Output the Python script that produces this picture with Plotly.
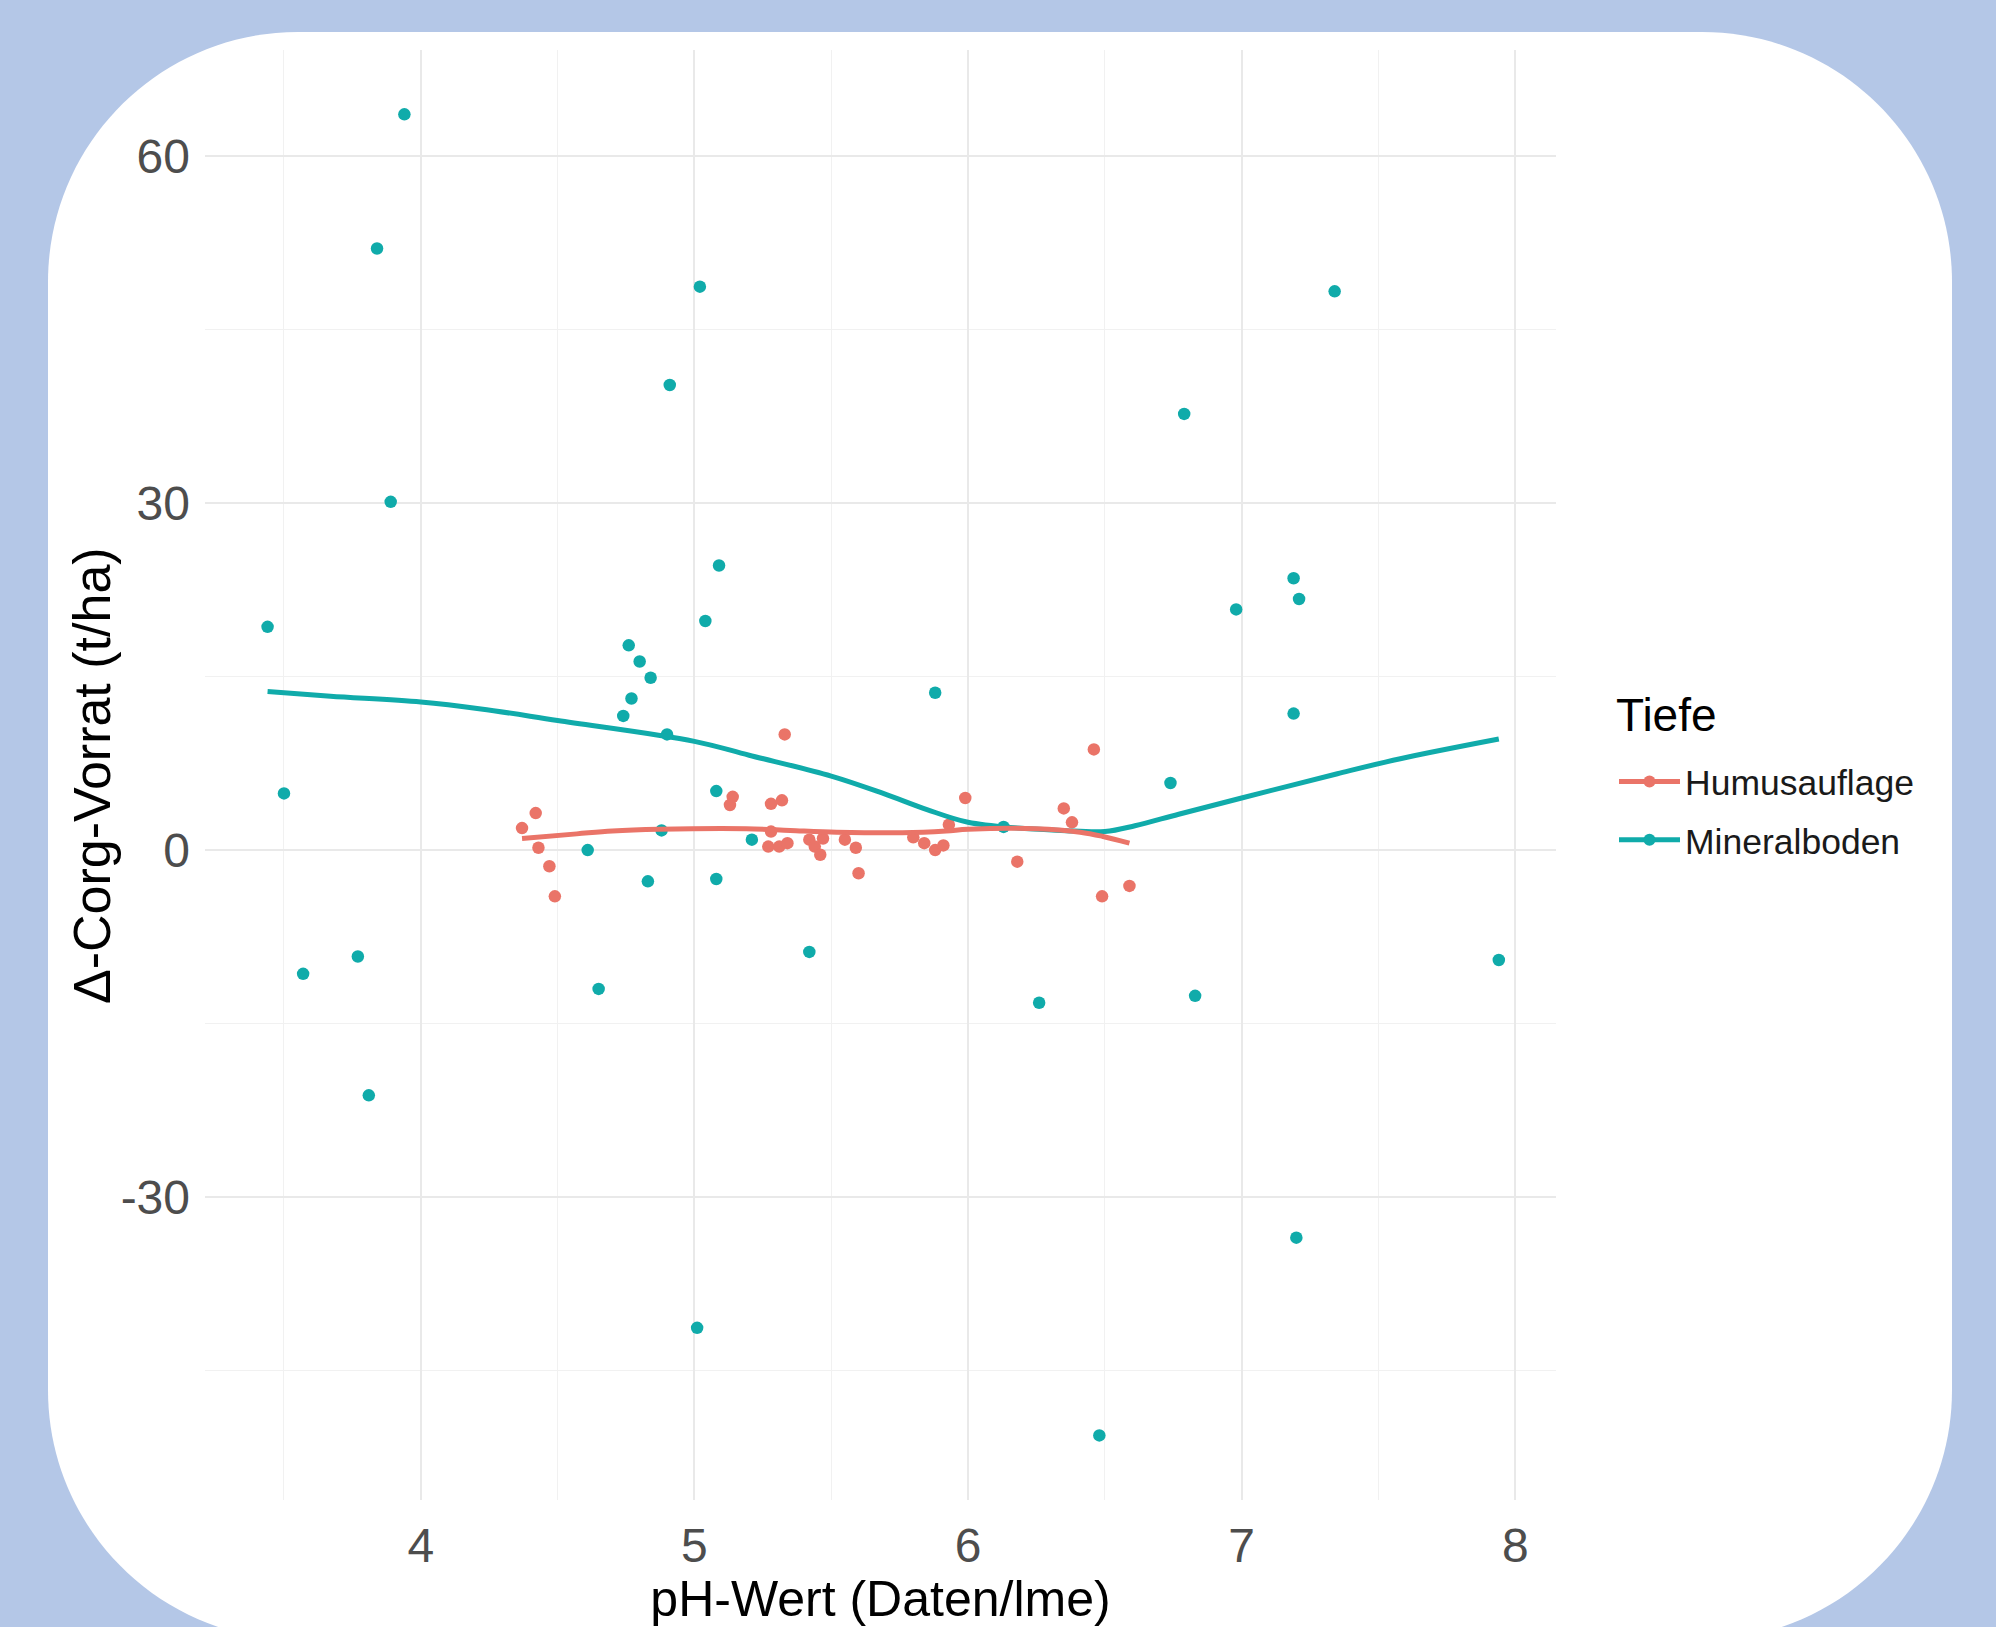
import plotly.graph_objects as go

# ---------------- data ----------------
mineral_ph = [3.44, 3.50, 3.57, 3.77, 3.81, 3.84, 3.89, 3.94, 4.61, 4.65,
              4.74, 4.77, 4.76, 4.80, 4.84, 4.83, 4.88, 4.90, 4.91, 5.02,
              5.01, 5.04, 5.08, 5.08, 5.09, 5.21, 5.42, 5.88, 6.13, 6.26,
              6.48, 6.74, 6.79, 6.83, 6.98, 7.19, 7.19, 7.21, 7.20, 7.34,
              7.94]
mineral_dc = [19.3, 4.9, -10.7, -9.2, -21.2, 52.0, 30.1, 63.6, 0.0, -12.0,
              11.6, 13.1, 17.7, 16.3, 14.9, -2.7, 1.7, 10.0, 40.2, 48.7,
              -41.3, 19.8, 5.1, -2.5, 24.6, 0.9, -8.8, 13.6, 2.0, -13.2,
              -50.6, 5.8, 37.7, -12.6, 20.8, 11.8, 23.5, 21.7, -33.5, 48.3,
              -9.5]

humus_ph = [4.37, 4.42, 4.43, 4.47, 4.49, 5.14, 5.13, 5.28, 5.32, 5.33,
            5.27, 5.31, 5.34, 5.28, 5.42, 5.44, 5.47, 5.46, 5.55, 5.59,
            5.60, 5.80, 5.84, 5.88, 5.91, 5.93, 5.99, 6.18, 6.35, 6.38,
            6.46, 6.49, 6.59]
humus_dc = [1.9, 3.2, 0.2, -1.4, -4.0, 4.6, 3.9, 4.0, 4.3, 10.0,
            0.3, 0.3, 0.6, 1.6, 0.9, 0.3, 1.0, -0.4, 0.9, 0.2,
            -2.0, 1.1, 0.6, 0.0, 0.4, 2.2, 4.5, -1.0, 3.6, 2.4,
            8.7, -4.0, -3.1]

# loess trend lines
mineral_fit_ph = [3.44, 3.67, 4.00, 4.22, 4.50, 5.00, 5.20, 5.50, 5.69, 5.85,
                  6.00, 6.18, 6.34, 6.50, 6.61, 6.77, 7.00, 7.35, 7.58, 7.94]
mineral_fit_dc = [13.7, 13.3, 12.8, 12.2, 11.2, 9.4, 8.2, 6.4, 4.9, 3.5,
                  2.4, 1.9, 1.7, 1.6, 2.1, 3.1, 4.5, 6.6, 7.9, 9.6]
humus_fit_ph = [4.37, 4.57, 4.70, 4.87, 5.19, 5.35, 5.52, 5.76, 5.92, 6.00,
                6.25, 6.41, 6.49, 6.59]
humus_fit_dc = [1.0, 1.4, 1.65, 1.8, 1.85, 1.7, 1.55, 1.5, 1.65, 1.8,
                1.85, 1.55, 1.2, 0.6]

series_names = ["Humusauflage", "Mineralboden"]
legend_title = "Tiefe"
x_title = "pH-Wert (Daten/lme)"
y_title = "Δ-Corg-Vorrat (t/ha)"
x_ticks = [4, 5, 6, 7, 8]
y_ticks = [-30, 0, 30, 60]
y_tick_labels = ["-30", "0", "30", "60"]
x_minor = [3.5, 4.5, 5.5, 6.5, 7.5]
y_minor = [-45, -15, 15, 45]

# ---------------- styling ----------------
RED = "#ea7468"
TEAL = "#10abaa"
FONT = "Liberation Sans, Arial, sans-serif"
W, H = 1996, 1627
L, R, T, B = 205, 440, 50, 127
PW, PH = W - L - R, H - T - B


def paper(px, py):
    return ((px - L) / PW, (H - B - py) / PH)


def rounded_rect_path(x0, y0, x1, y1, rad):
    k = 0.5523 * rad
    pts = [
        ("M", [(x0 + rad, y0)]),
        ("L", [(x1 - rad, y0)]),
        ("C", [(x1 - rad + k, y0), (x1, y0 + rad - k), (x1, y0 + rad)]),
        ("L", [(x1, y1 - rad)]),
        ("C", [(x1, y1 - rad + k), (x1 - rad + k, y1), (x1 - rad, y1)]),
        ("L", [(x0 + rad, y1)]),
        ("C", [(x0 + rad - k, y1), (x0, y1 - rad + k), (x0, y1 - rad)]),
        ("L", [(x0, y0 + rad)]),
        ("C", [(x0, y0 + rad - k), (x0 + rad - k, y0), (x0 + rad, y0)]),
    ]
    s = ""
    for cmd, plist in pts:
        s += cmd + " ".join("%.5f,%.5f" % paper(px, py) for px, py in plist) + " "
    return s + "Z"


fig = go.Figure()

fig.add_trace(go.Scatter(x=humus_ph, y=humus_dc, mode="markers",
                         marker=dict(color=RED, size=12.5), showlegend=False))
fig.add_trace(go.Scatter(x=mineral_ph, y=mineral_dc, mode="markers",
                         marker=dict(color=TEAL, size=12.5), showlegend=False))
fig.add_trace(go.Scatter(x=mineral_fit_ph, y=mineral_fit_dc, mode="lines",
                         line=dict(color=TEAL, width=5, shape="spline"),
                         showlegend=False))
fig.add_trace(go.Scatter(x=humus_fit_ph, y=humus_fit_dc, mode="lines",
                         line=dict(color=RED, width=5, shape="spline"),
                         showlegend=False))
# legend entries (point + line, as in the ggplot key)
for name, col in zip(series_names, [RED, TEAL]):
    fig.add_trace(go.Scatter(x=[None], y=[None], mode="lines+markers", name=name,
                             legendgroup=name,
                             line=dict(color=col, width=5),
                             marker=dict(color=col, size=12)))

grid_major = "#e9e9e9"
grid_minor = "#f1f1f1"

tx, ty = paper(1614, 715)
ytx, yty = paper(92, 776)

fig.update_layout(
    width=W, height=H,
    margin=dict(l=L, r=R, t=T, b=B, autoexpand=False),
    paper_bgcolor="#b4c7e7",
    plot_bgcolor="white",
    font=dict(family=FONT, color="#000000"),
    shapes=[dict(type="path", xref="paper", yref="paper",
                 path=rounded_rect_path(48, 32, 1952, 1640, 250),
                 fillcolor="white", line=dict(width=0), layer="below")],
    annotations=[
        dict(text=legend_title, xref="paper", yref="paper",
             x=tx, y=ty, xanchor="left", yanchor="middle", showarrow=False,
             font=dict(size=46, color="#000000", family=FONT)),
        dict(text=y_title, xref="paper", yref="paper", textangle=-90,
             x=ytx, y=yty, xanchor="center", yanchor="middle", showarrow=False,
             font=dict(size=52, color="#000000", family=FONT)),
    ],
    xaxis=dict(range=[3.2113, 8.149], tickvals=x_ticks,
               showline=False, zeroline=False, ticks="",
               showgrid=True, gridcolor=grid_major, gridwidth=1.6,
               minor=dict(tickvals=x_minor, showgrid=True,
                          gridcolor=grid_minor, gridwidth=1.2),
               tickfont=dict(size=48, color="#4d4d4d", family=FONT),
               ticklabelstandoff=13,
               title=dict(text=x_title, standoff=6,
                          font=dict(size=50, color="#000000", family=FONT))),
    yaxis=dict(range=[-56.18, 69.16], tickvals=y_ticks, ticktext=y_tick_labels,
               showline=False, zeroline=False, ticks="",
               showgrid=True, gridcolor=grid_major, gridwidth=1.6,
               minor=dict(tickvals=y_minor, showgrid=True,
                          gridcolor=grid_minor, gridwidth=1.2),
               tickfont=dict(size=48, color="#4d4d4d", family=FONT),
               ticklabelstandoff=14),
    legend=dict(x=(1614 - L) / PW, xanchor="left",
                y=(H - B - 752) / PH, yanchor="top",
                bgcolor="rgba(0,0,0,0)",
                traceorder="grouped", tracegroupgap=9,
                itemwidth=61,
                font=dict(size=35.5, color="#1a1a1a", family=FONT)),
)

fig.write_html("out.html",
               config={"displayModeBar": False},
               post_script="document.body.style.margin='0px';"
                           "document.body.style.background='#b4c7e7';")
